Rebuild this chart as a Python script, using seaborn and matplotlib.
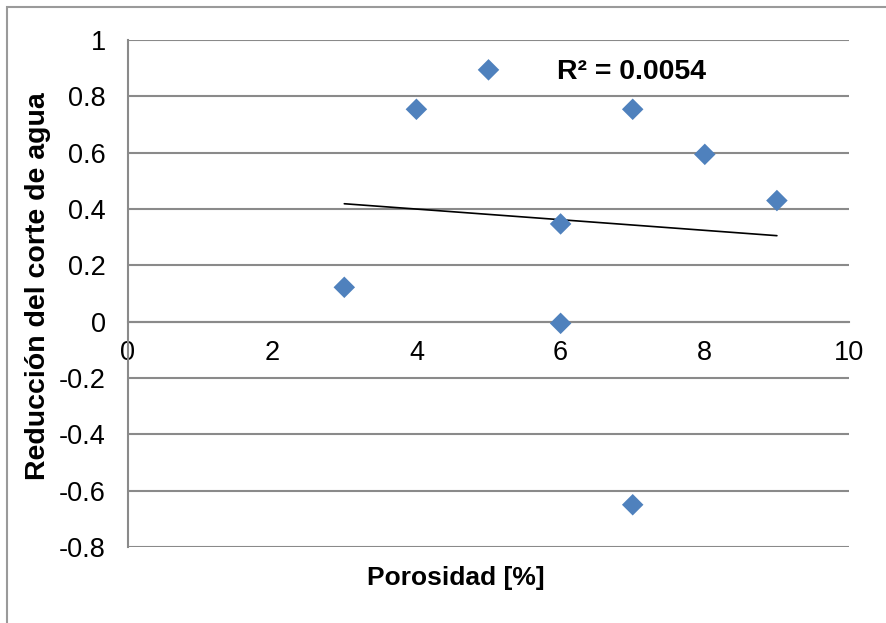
import matplotlib
matplotlib.use("Agg")
import matplotlib.pyplot as plt
import seaborn as sns
import numpy as np
import pandas as pd
from matplotlib.patches import Rectangle

# Data
porosidad = [3, 4, 5, 6, 6, 7, 7, 8, 9]
reduccion = [0.122, 0.754, 0.894, 0.347, -0.006, 0.754, -0.65, 0.594, 0.43]
r2_label = "R² = 0.0054"
x_ticks = [0, 2, 4, 6, 8, 10]
y_ticks = [-0.8, -0.6, -0.4, -0.2, 0, 0.2, 0.4, 0.6, 0.8, 1]
y_tick_labels = ["-0.8", "-0.6", "-0.4", "-0.2", "0", "0.2", "0.4", "0.6", "0.8", "1"]
x_title = "Porosidad [%]"
y_title = "Reducción del corte de agua"

df = pd.DataFrame({"x": porosidad, "y": reduccion})

sns.set_theme(style="white")
plt.rcParams['font.family'] = ['Liberation Sans', 'DejaVu Sans']
plt.rcParams['text.color'] = 'black'
plt.rcParams['axes.labelcolor'] = 'black'

fig = plt.figure(figsize=(8.86, 6.23), dpi=100)
ax = fig.add_axes([128/886, 1-547/623, (849-128)/886, (547-40)/623])

grid_c = "#8a8a8a"
for yv in y_ticks:
    ax.axhline(yv, color=grid_c, lw=1.5, zorder=0)

sns.regplot(data=df, x="x", y="y", scatter=False, ci=None, truncate=True,
            color="black", line_kws={"lw": 1.2, "zorder": 2}, ax=ax)
sns.scatterplot(data=df, x="x", y="y", marker="D", s=120, color="#4F81BD",
                edgecolor="none", linewidth=0, zorder=3, ax=ax)

ax.set_xlim(0, 10)
ax.set_ylim(-0.8, 1)
ax.set_xticks(x_ticks)
ax.set_xticklabels([str(v) for v in x_ticks])
ax.set_yticks(y_ticks)
ax.set_yticklabels(y_tick_labels)

for s in ["top", "right"]:
    ax.spines[s].set_visible(False)
ax.spines["left"].set_color(grid_c)
ax.spines["left"].set_linewidth(1.5)
ax.spines["bottom"].set_position(("data", 0))
ax.spines["bottom"].set_color(grid_c)
ax.spines["bottom"].set_linewidth(1.5)

ax.tick_params(axis="both", length=0, labelsize=19.5, colors="black")
ax.tick_params(axis="x", pad=13)
ax.tick_params(axis="y", pad=16)

ax.set_xlabel(x_title, fontsize=19, fontweight="bold", va="center", color="black")
ax.xaxis.set_label_coords(0.455, -0.061)
ax.set_ylabel(y_title, fontsize=20.5, fontweight="bold", va="center", color="black")
ax.yaxis.set_label_coords(-0.125, 0.515)

ax.text(5.95, 0.886, r2_label, fontsize=20.5, fontweight="bold",
        ha="left", va="center", color="black")

fig.patches.append(Rectangle((7/886, -0.1), 1.2, 1 - 7/623 + 0.1,
                             transform=fig.transFigure, fill=False,
                             edgecolor="#9a9a9a", lw=1.5))

fig.savefig("out.png", dpi=100)
